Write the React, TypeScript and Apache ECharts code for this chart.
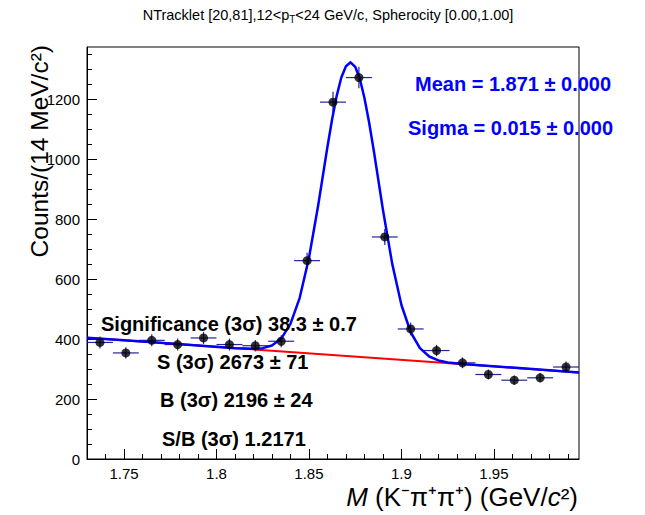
import React, { useEffect, useRef } from 'react';
import * as echarts from 'echarts';

const X_MIN = 1.73;
const X_MAX = 1.996;
const Y_MIN = 0;
const Y_MAX = 1375;
const BIN_HALF_WIDTH = 0.007;

const BIN_CENTERS = [1.737, 1.751, 1.765, 1.779, 1.793, 1.807, 1.821, 1.835, 1.849, 1.863, 1.877, 1.891, 1.905, 1.919, 1.933, 1.947, 1.961, 1.975, 1.989];
const COUNTS = [389, 354, 396, 382, 404, 382, 378, 393, 662, 1191, 1273, 741, 434, 362, 321, 282, 263, 271, 307];
const COUNT_ERRORS = [20, 19, 20, 20, 20, 20, 19, 20, 26, 35, 36, 27, 21, 19, 18, 17, 16, 16, 18];

const FIT_X = [1.73, 1.76, 1.79, 1.81, 1.82, 1.825, 1.83, 1.835, 1.84, 1.845, 1.85, 1.855, 1.86, 1.8625, 1.865, 1.8675, 1.87, 1.8725, 1.875, 1.8775, 1.88, 1.8825, 1.885, 1.89, 1.895, 1.9, 1.905, 1.91, 1.915, 1.92, 1.925, 1.935, 1.96, 1.996];
const FIT_Y = [405, 392, 379, 370, 368, 370, 379, 402, 451, 538, 671, 847, 1042, 1133, 1212, 1273, 1311, 1324, 1309, 1269, 1205, 1124, 1031, 832, 652, 514, 423, 370, 342, 329, 322, 316, 305, 289];

const BG_X = [1.73, 1.996];
const BG_Y = [405, 289];

const X_MAJOR_TICKS = [1.75, 1.8, 1.85, 1.9, 1.95];
const X_MINOR_TICKS = [1.74, 1.76, 1.77, 1.78, 1.79, 1.81, 1.82, 1.83, 1.84, 1.86, 1.87, 1.88, 1.89, 1.91, 1.92, 1.93, 1.94, 1.96, 1.97, 1.98, 1.99];
const Y_MAJOR_TICKS = [0, 200, 400, 600, 800, 1000, 1200];
const Y_MINOR_TICKS = [50, 100, 150, 250, 300, 350, 450, 500, 550, 650, 700, 750, 850, 900, 950, 1050, 1100, 1150, 1250, 1300, 1350];

const TITLE_MAIN_A = 'NTracklet [20,81],12<p';
const TITLE_SUB = 'T';
const TITLE_MAIN_B = '<24 GeV/c, Spherocity [0.00,1.00]';
const Y_TITLE = 'Counts/(14 MeV/c²)';
const FIT_LABELS = ['Mean = 1.871 ± 0.000', 'Sigma = 0.015 ± 0.000'];
const YIELD_LABELS = ['Significance (3σ) 38.3 ± 0.7', 'S (3σ) 2673 ± 71', 'B (3σ) 2196 ± 24', 'S/B (3σ) 1.2171'];

const FONT = '"Liberation Sans", Arial, Helvetica, sans-serif';
const ERR_COLOR = '#24249c';

export default function App() {
  const ref = useRef<HTMLDivElement>(null);

  useEffect(() => {
    if (!ref.current) return;
    const chart = echarts.init(ref.current, null, { renderer: 'svg' });

    const points = BIN_CENTERS.map((x, i) => [x, COUNTS[i], COUNT_ERRORS[i]]);
    const fit = FIT_X.map((x, i) => [x, FIT_Y[i]]);
    const bg = BG_X.map((x, i) => [x, BG_Y[i]]);

    const textBase = { fontFamily: FONT, fontWeight: 'bold', fontSize: 20 };

    const option: any = {
      animation: false,
      grid: { left: 87, right: 66, top: 47, bottom: 56, show: true, borderColor: '#000', borderWidth: 1 },
      xAxis: [
        {
          type: 'value', min: X_MIN, max: X_MAX, position: 'bottom',
          axisLine: { show: true, onZero: false, lineStyle: { color: '#000', width: 1 } },
          axisTick: { show: true, inside: true, length: 10, customValues: X_MAJOR_TICKS, lineStyle: { color: '#000' } },
          axisLabel: { show: true, customValues: X_MAJOR_TICKS, fontSize: 15, color: '#000', margin: 7, fontFamily: FONT, formatter: (v: number) => String(v) },
          splitLine: { show: false },
        },
        {
          type: 'value', min: X_MIN, max: X_MAX, position: 'bottom',
          axisLine: { show: false },
          axisTick: { show: true, inside: true, length: 5, customValues: X_MINOR_TICKS, lineStyle: { color: '#000' } },
          axisLabel: { show: false },
          splitLine: { show: false },
        },
      ],
      yAxis: [
        {
          type: 'value', min: Y_MIN, max: Y_MAX, position: 'left',
          axisLine: { show: true, onZero: false, lineStyle: { color: '#000', width: 1 } },
          axisTick: { show: true, inside: true, length: 10, customValues: Y_MAJOR_TICKS, lineStyle: { color: '#000' } },
          axisLabel: { show: true, customValues: Y_MAJOR_TICKS, fontSize: 15, color: '#000', margin: 7, fontFamily: FONT, formatter: (v: number) => String(v) },
          splitLine: { show: false },
        },
        {
          type: 'value', min: Y_MIN, max: Y_MAX, position: 'left',
          axisLine: { show: false },
          axisTick: { show: true, inside: true, length: 5, customValues: Y_MINOR_TICKS, lineStyle: { color: '#000' } },
          axisLabel: { show: false },
          splitLine: { show: false },
        },
      ],
      series: [
        {
          type: 'custom',
          xAxisIndex: 0, yAxisIndex: 0,
          data: points,
          encode: { x: 0, y: 1 },
          renderItem: (params: any, api: any) => {
            const x = api.value(0), y = api.value(1), e = api.value(2);
            const l = api.coord([x - BIN_HALF_WIDTH, y]);
            const r = api.coord([x + BIN_HALF_WIDTH, y]);
            const t = api.coord([x, y + e]);
            const b = api.coord([x, y - e]);
            const style = { stroke: ERR_COLOR, lineWidth: 1.2 };
            return {
              type: 'group',
              children: [
                { type: 'line', shape: { x1: l[0], y1: l[1], x2: r[0], y2: r[1] }, style },
                { type: 'line', shape: { x1: t[0], y1: t[1], x2: b[0], y2: b[1] }, style },
              ],
            };
          },
          z: 2,
        },
        {
          type: 'line', data: bg, showSymbol: false, symbol: 'none',
          lineStyle: { color: '#ff0000', width: 2 }, z: 3,
        },
        {
          type: 'line', data: fit, showSymbol: false, symbol: 'none', smooth: false,
          lineStyle: { color: '#0000ff', width: 2.5, join: 'round' }, z: 4,
        },
        {
          type: 'scatter', data: points.map((p) => [p[0], p[1]]), symbol: 'circle', symbolSize: 9,
          itemStyle: { color: '#000' }, z: 5,
        },
      ],
      graphic: [
        {
          type: 'text', x: 328, y: 15, z: 100,
          style: {
            text: `{n|${TITLE_MAIN_A}}{s|${TITLE_SUB}}{n|${TITLE_MAIN_B}}`,
            align: 'center', verticalAlign: 'middle', fill: '#000', fontFamily: FONT, fontSize: 14.5,
            rich: {
              n: { fontFamily: FONT, fontSize: 14.5, fill: '#000' },
              s: { fontFamily: FONT, fontSize: 10, fill: '#000', padding: [9, 0, 0, 0] },
            },
          },
        },
        {
          type: 'text', x: 39, y: 45, rotation: Math.PI / 2, z: 100,
          style: { text: Y_TITLE, align: 'right', verticalAlign: 'middle', fill: '#000', fontFamily: FONT, fontSize: 24.5 },
        },
        {
          type: 'text', x: 578, y: 497, z: 100,
          style: {
            text: '{i|M} (K⁻π⁺π⁺) (GeV/{i|c}²)',
            align: 'right', verticalAlign: 'middle', fill: '#000', fontFamily: FONT, fontSize: 26,
            rich: { i: { fontFamily: FONT, fontSize: 26, fontStyle: 'italic', fill: '#000' } },
          },
        },
        { type: 'text', x: 415, y: 84, z: 100, style: { ...textBase, text: FIT_LABELS[0], fill: '#0000ff', align: 'left', verticalAlign: 'middle' } },
        { type: 'text', x: 408, y: 128, z: 100, style: { ...textBase, text: FIT_LABELS[1], fill: '#0000ff', align: 'left', verticalAlign: 'middle' } },
        { type: 'text', x: 101, y: 324, z: 100, style: { ...textBase, text: YIELD_LABELS[0], fill: '#000', align: 'left', verticalAlign: 'middle' } },
        { type: 'text', x: 157, y: 362, z: 100, style: { ...textBase, text: YIELD_LABELS[1], fill: '#000', align: 'left', verticalAlign: 'middle' } },
        { type: 'text', x: 160, y: 400, z: 100, style: { ...textBase, text: YIELD_LABELS[2], fill: '#000', align: 'left', verticalAlign: 'middle' } },
        { type: 'text', x: 162, y: 439, z: 100, style: { ...textBase, text: YIELD_LABELS[3], fill: '#000', align: 'left', verticalAlign: 'middle' } },
      ],
    };

    chart.setOption(option);
    return () => chart.dispose();
  }, []);

  return <div ref={ref} style={{ position: 'absolute', left: 0, top: 0, width: 645, height: 515 }} />;
}
